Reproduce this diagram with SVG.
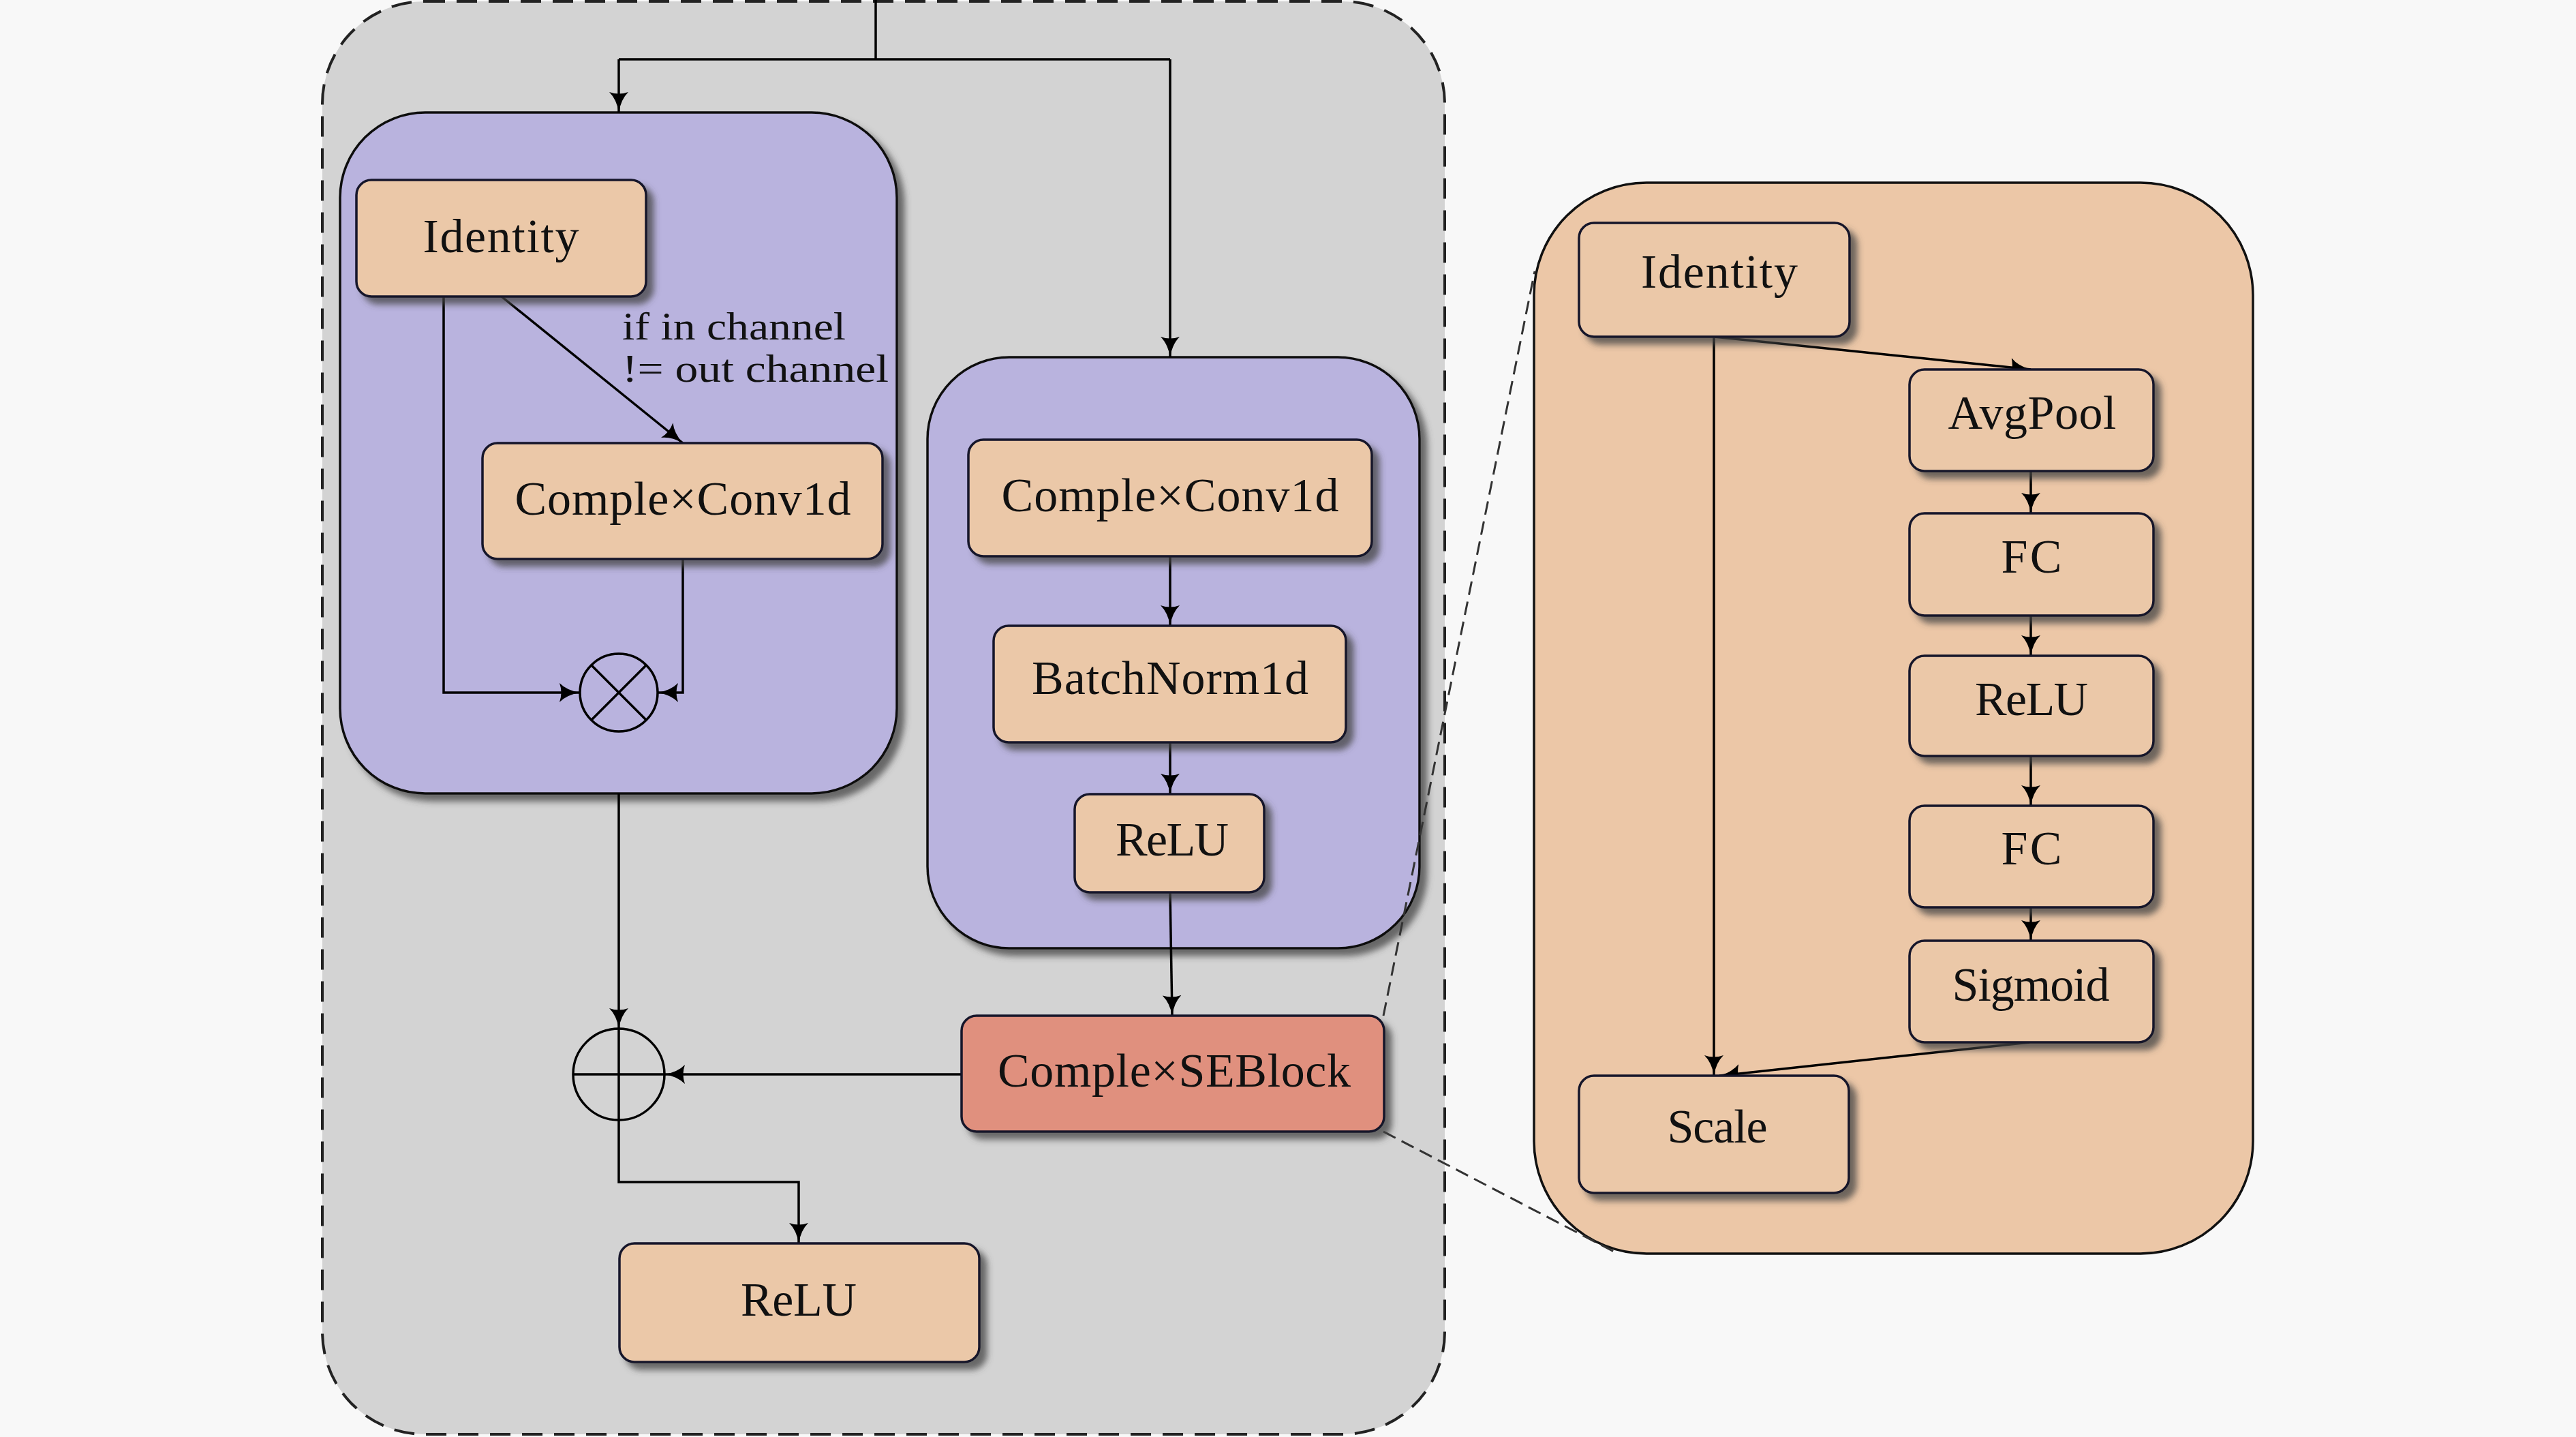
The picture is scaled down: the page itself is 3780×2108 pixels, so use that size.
<svg xmlns="http://www.w3.org/2000/svg" width="3780" height="2108" viewBox="0 0 3780 2108">
<defs>
<style>
.bg{fill:#F8F8F8}
.outer{fill:#D3D3D3;stroke:#222;stroke-width:4;stroke-dasharray:30 17}
.blk{fill:#B9B3DE;stroke:#111;stroke-width:3.5}
.pblk{fill:#ECC7A7;stroke:#111;stroke-width:3.5}
.box{fill:#EBC8A8;stroke:#15152a;stroke-width:3.5}
.se{fill:#E0907E;stroke:#15152a;stroke-width:3.5}
.lbl{font-family:"Liberation Serif","Times New Roman",serif;font-size:70px;fill:#111;text-anchor:middle}
.note{font-family:"Liberation Serif","Times New Roman",serif;font-size:56px;fill:#111}
.c{fill:none;stroke:#000;stroke-width:3.5}
.zoom{fill:none;stroke:#333;stroke-width:3;stroke-dasharray:20 10}
.op{fill:none;stroke:#000;stroke-width:3.5}
</style>
<marker id="ah" markerUnits="userSpaceOnUse" markerWidth="32" markerHeight="28" refX="30" refY="14" orient="auto">
<path d="M0,0 Q11,11 30,14 Q11,17 0,28 Q5,14 0,0 z" fill="#000"/>
</marker>
<filter id="sh" x="-10%" y="-10%" width="130%" height="130%">
<feGaussianBlur in="SourceAlpha" stdDeviation="5"/>
<feOffset dx="10" dy="10" result="o"/>
<feFlood flood-color="#444" flood-opacity="0.75"/>
<feComposite in2="o" operator="in"/>
<feMerge><feMergeNode/><feMergeNode in="SourceGraphic"/></feMerge>
</filter>
</defs>
<rect class="bg" x="0" y="0" width="3780" height="2108"/>

<g id="outer-container">
<rect class="outer" x="473" y="2" width="1647" height="2102" rx="150" ry="150"/>
</g>
<g id="left-block">
<rect class="blk" x="499" y="165" width="817" height="999" rx="125" ry="125" filter="url(#sh)"/>
</g>
<g id="right-block">
<rect class="blk" x="1361" y="524" width="722" height="867" rx="120" ry="120" filter="url(#sh)"/>
</g>
<g id="se-detail-block">
<rect class="pblk" x="2251" y="268" width="1055" height="1571" rx="165" ry="165"/>
</g>

<g id="connectors">
<path class="c" d="M1285,0 V87"/>
<path class="c" d="M908,87 H1717"/>
<path class="c" d="M908,87 V165" marker-end="url(#ah)"/>
<path class="c" d="M1717,87 V524" marker-end="url(#ah)"/>
<path class="c" d="M736,435 L1002,650" marker-end="url(#ah)"/>
<path class="c" d="M651,435 V1016 H851" marker-end="url(#ah)"/>
<path class="c" d="M1002,820 V1016 H965" marker-end="url(#ah)"/>
<path class="c" d="M908,1164 V1509" marker-end="url(#ah)"/>
<path class="c" d="M1717,816 V918" marker-end="url(#ah)"/>
<path class="c" d="M1717,1089 V1165" marker-end="url(#ah)"/>
<path class="c" d="M1717,1309 L1720,1490" marker-end="url(#ah)"/>
<path class="c" d="M1411,1576 H975" marker-end="url(#ah)"/>
<path class="c" d="M908,1643 V1734 H1172 V1824" marker-end="url(#ah)"/>
<path class="c" d="M2515,494 L2980,542" marker-end="url(#ah)"/>
<path class="c" d="M2980,691 V753" marker-end="url(#ah)"/>
<path class="c" d="M2980,903 V962" marker-end="url(#ah)"/>
<path class="c" d="M2980,1109 V1182" marker-end="url(#ah)"/>
<path class="c" d="M2980,1331 V1380" marker-end="url(#ah)"/>
<path class="c" d="M2978,1529 L2523,1578" marker-end="url(#ah)"/>
<path class="c" d="M2515,494 V1578" marker-end="url(#ah)"/>
<path class="zoom" d="M2030,1490 L2252,398"/>
<path class="zoom" d="M2030,1660 L2372,1838"/>
<text class="note" x="913" y="498" textLength="328" lengthAdjust="spacingAndGlyphs">if in channel</text>
<text class="note" x="913" y="560" textLength="391" lengthAdjust="spacingAndGlyphs">!= out channel</text>
</g>

<g id="otimes">
<circle class="op" cx="908" cy="1016" r="57"/>
<path class="op" d="M868,976 L948,1056 M948,976 L868,1056"/>
</g>
<g id="oplus">
<circle class="op" cx="908" cy="1576" r="67"/>
<path class="op" d="M841,1576 H975 M908,1509 V1643"/>
</g>

<g id="identity-left">
<rect class="box" x="523" y="264" width="425" height="171" rx="22" filter="url(#sh)"/>
<text class="lbl" x="735" y="370" textLength="229">Identity</text>
</g>
<g id="conv-left">
<rect class="box" x="708" y="650" width="587" height="170" rx="22" filter="url(#sh)"/>
<text class="lbl" x="1002" y="755" textLength="493">Comple×Conv1d</text>
</g>
<g id="conv-right">
<rect class="box" x="1421" y="645" width="592" height="171" rx="22" filter="url(#sh)"/>
<text class="lbl" x="1717" y="750" textLength="495">Comple×Conv1d</text>
</g>
<g id="batchnorm">
<rect class="box" x="1458" y="918" width="517" height="171" rx="22" filter="url(#sh)"/>
<text class="lbl" x="1717" y="1018" textLength="406">BatchNorm1d</text>
</g>
<g id="relu-inner">
<rect class="box" x="1577" y="1165" width="278" height="144" rx="22" filter="url(#sh)"/>
<text class="lbl" x="1720" y="1255" textLength="166">ReLU</text>
</g>
<g id="seblock">
<rect class="se" x="1411" y="1490" width="620" height="170" rx="22" filter="url(#sh)"/>
<text class="lbl" x="1723" y="1594" textLength="518">Comple×SEBlock</text>
</g>
<g id="relu-out">
<rect class="box" x="909" y="1824" width="528" height="174" rx="22" filter="url(#sh)"/>
<text class="lbl" x="1172" y="1930" textLength="170">ReLU</text>
</g>
<g id="identity-right">
<rect class="box" x="2317" y="327" width="397" height="167" rx="22" filter="url(#sh)"/>
<text class="lbl" x="2523" y="422" textLength="230">Identity</text>
</g>
<g id="avgpool">
<rect class="box" x="2802" y="542" width="358" height="149" rx="22" filter="url(#sh)"/>
<text class="lbl" x="2982" y="629" textLength="247">AvgPool</text>
</g>
<g id="fc1">
<rect class="box" x="2802" y="753" width="358" height="150" rx="22" filter="url(#sh)"/>
<text class="lbl" x="2981" y="840" textLength="89">FC</text>
</g>
<g id="relu-right">
<rect class="box" x="2802" y="962" width="358" height="147" rx="22" filter="url(#sh)"/>
<text class="lbl" x="2981" y="1049" textLength="166">ReLU</text>
</g>
<g id="fc2">
<rect class="box" x="2802" y="1182" width="358" height="149" rx="22" filter="url(#sh)"/>
<text class="lbl" x="2981" y="1268" textLength="89">FC</text>
</g>
<g id="sigmoid">
<rect class="box" x="2802" y="1380" width="358" height="149" rx="22" filter="url(#sh)"/>
<text class="lbl" x="2980" y="1468" textLength="231">Sigmoid</text>
</g>
<g id="scale">
<rect class="box" x="2317" y="1578" width="396" height="172" rx="22" filter="url(#sh)"/>
<text class="lbl" x="2520" y="1676" textLength="147">Scale</text>
</g>
</svg>
